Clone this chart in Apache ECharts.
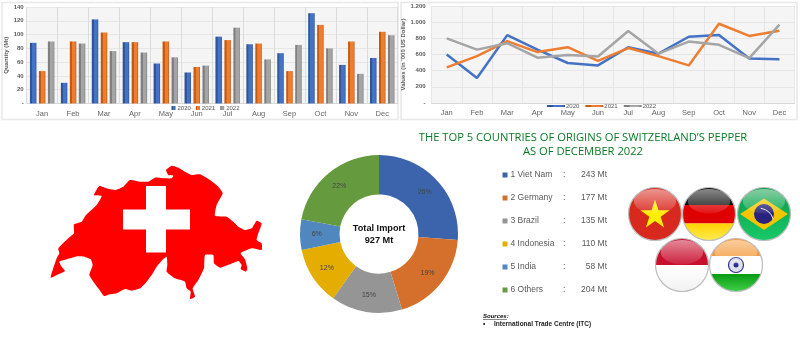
<!DOCTYPE html>
<html>
<head>
<meta charset="utf-8">
<title>Switzerland pepper imports</title>
<script src="https://cdn.jsdelivr.net/npm/echarts@6/dist/echarts.min.js"></script>
<style>
html, body { margin: 0; padding: 0; background: #fff; }
#main { width: 800px; height: 361px; }
</style>
</head>
<body>
<div id="main"></div>
<script>
// 月份
var months = ['Jan', 'Feb', 'Mar', 'Apr', 'May', 'Jun', 'Jul', 'Aug', 'Sep', 'Oct', 'Nov', 'Dec']
var years = ['2020', '2021', '2022']

// 数量 (Mt)
var qty2020 = [88, 30, 122, 89, 58, 45, 97, 86, 73, 131, 56, 66]
var qty2021 = [47, 90, 103, 89, 90, 53, 92, 87, 47, 114, 90, 104]
var qty2022 = [90, 87, 76, 74, 67, 55, 110, 64, 85, 80, 43, 99]

// 金额 ('000 US Dollar)
var val2020 = [600, 310, 840, 660, 495, 465, 690, 610, 820, 840, 550, 540]
var val2021 = [440, 580, 765, 630, 690, 520, 680, 580, 465, 980, 830, 895]
var val2022 = [800, 660, 740, 560, 595, 575, 890, 610, 760, 720, 555, 970]

// 来源国
var countries = ['1 Viet Nam', '2 Germany', '3 Brazil', '4 Indonesia', '5 India', '6 Others']
var imports = [243, 177, 135, 110, 58, 204]
var totalImport = 927

var yearColors = ['#2f5597', '#c55a11', '#7f7f7f']
var yearLights = ['#4472c4', '#ed7d31', '#a5a5a5']
var lineColors = ['#4472c4', '#ed7d31', '#a5a5a5']
var pieColors = ['#3b64ad', '#d4702c', '#959595', '#e5ad00', '#4f87be', '#659b3e']

// 瑞士地图轮廓
var mapOutline = [
    [152, 458], [175, 448], [195, 438], [185, 425], [178, 410], [200, 403], [232, 394], [255, 396], [272, 403],
    [278, 420], [268, 450], [280, 470], [295, 490], [312, 513], [330, 508], [350, 505], [375, 492], [395, 497],
    [420, 490], [440, 470], [455, 450], [470, 425], [490, 402], [500, 395], [502, 420], [500, 440], [525, 460],
    [555, 470], [560, 490], [572, 500], [570, 522], [585, 515], [578, 490], [595, 465], [612, 430], [615, 390],
    [640, 390], [642, 415], [660, 428], [690, 418], [715, 408], [725, 420], [722, 432], [738, 440], [742, 430],
    [735, 403], [722, 385], [755, 370], [785, 375], [785, 355], [770, 345], [775, 325], [785, 295], [770, 287],
    [755, 310], [735, 315], [715, 305], [700, 290], [680, 275], [645, 272], [650, 240], [668, 205], [655, 185],
    [630, 165], [600, 148], [575, 150], [555, 140], [535, 128], [515, 122], [498, 135], [505, 150], [520, 152],
    [515, 160], [490, 160], [465, 158], [445, 170], [420, 170], [390, 165], [370, 185], [345, 195], [320, 190],
    [298, 183], [282, 210], [305, 213], [290, 240], [258, 270], [245, 290], [222, 298], [222, 325], [205, 340],
    [175, 370], [178, 385], [170, 400]
]

var fontName = '"Liberation Sans", Arial, sans-serif'
var myChart = echarts.init(document.getElementById('main'))

function barFill(i) {
    return new echarts.graphic.LinearGradient(0, 0, 1, 0, [
        { offset: 0, color: yearColors[i] },
        { offset: 0.3, color: yearColors[i] },
        { offset: 0.35, color: yearLights[i] },
        { offset: 0.8, color: yearLights[i] },
        { offset: 1, color: yearColors[i] }
    ])
}

function initBarSeries(list) {
    return list.map(function (data, i) {
        return {
            type: 'bar',
            name: years[i],
            xAxisIndex: 0,
            yAxisIndex: 0,
            barWidth: 6.5,
            barGap: '38%',
            itemStyle: { color: barFill(i) },
            data: data
        }
    })
}

function initLineSeries(list) {
    return list.map(function (data, i) {
        return {
            type: 'line',
            name: years[i],
            xAxisIndex: 1,
            yAxisIndex: 1,
            symbol: 'none',
            lineStyle: { color: lineColors[i], width: 2.5 },
            itemStyle: { color: lineColors[i] },
            data: data
        }
    })
}

// 圆内水平条带
function bandPoints(cx, cy, r, y1, y2) {
    var pts = []
    var n = 24
    for (var i = 0; i <= n; i++) {
        var y = y1 + (y2 - y1) * i / n
        pts.push([cx + Math.sqrt(Math.max(r * r - y * y, 0)), cy + y])
    }
    for (var j = n; j >= 0; j--) {
        var yy = y1 + (y2 - y1) * j / n
        pts.push([cx - Math.sqrt(Math.max(r * r - yy * yy, 0)), cy + yy])
    }
    return pts
}

function band(cx, cy, r, y1, y2, fill) {
    return { type: 'polygon', shape: { points: bandPoints(cx, cy, r, y1, y2) }, style: { fill: fill } }
}

function vGrad(c1, c2) {
    return new echarts.graphic.LinearGradient(0, 0, 0, 1, [
        { offset: 0, color: c1 },
        { offset: 1, color: c2 }
    ])
}

// 高光和边框
function gloss(cx, cy, r) {
    return [
        {
            type: 'ellipse',
            shape: { cx: cx, cy: cy - r * 0.48, rx: r * 0.8, ry: r * 0.46 },
            style: { fill: vGrad('rgba(255,255,255,0.5)', 'rgba(255,255,255,0.08)') }
        },
        {
            type: 'circle',
            shape: { cx: cx, cy: cy, r: r },
            style: { fill: 'none', stroke: '#bdbdbd', lineWidth: 1.2 }
        }
    ]
}

function starPoints(cx, cy, R) {
    var pts = []
    for (var i = 0; i < 10; i++) {
        var rad = i % 2 === 0 ? R : R * 0.38
        var a = -Math.PI / 2 + i * Math.PI / 5
        pts.push([cx + rad * Math.cos(a), cy + rad * Math.sin(a)])
    }
    return pts
}

function buildFlags() {
    var r = 26.5
    var out = []
    // Viet Nam
    out.push({ type: 'circle', shape: { cx: 655, cy: 214, r: r }, style: { fill: '#d8291f' } })
    out.push({ type: 'polygon', shape: { points: starPoints(655, 215, 15.5) }, style: { fill: '#ffee00' } })
    out = out.concat(gloss(655, 214, r))
    // Germany
    out.push(band(709, 214, r, -r, -9, '#111'))
    out.push(band(709, 214, r, -9, 9.5, '#df0000'))
    out.push(band(709, 214, r, 9.5, r, vGrad('#ffd400', '#ffea50')))
    out = out.concat(gloss(709, 214, r))
    // Brazil
    out.push({ type: 'circle', shape: { cx: 764, cy: 214, r: r }, style: { fill: vGrad('#0a9a45', '#19c96a') } })
    out.push({ type: 'polygon', shape: { points: [[764, 198.5], [788, 214], [764, 230], [740, 214]] }, style: { fill: '#f2c500' } })
    out.push({ type: 'circle', shape: { cx: 764, cy: 214, r: 10 }, style: { fill: '#28237c' } })
    out.push({ type: 'arc', shape: { cx: 758, cy: 224, r: 16, startAngle: -1.4, endAngle: -0.3 }, style: { stroke: '#e8e8e8', lineWidth: 1, fill: 'none' } })
    out = out.concat(gloss(764, 214, r))
    // Indonesia
    out.push(band(682, 265, r, -r, 0, '#c8102e'))
    out.push(band(682, 265, r, 0, r, vGrad('#ffffff', '#f2f2f2')))
    out = out.concat(gloss(682, 265, r))
    // India
    out.push(band(736, 265, r, -r, -9, '#f59a3c'))
    out.push(band(736, 265, r, -9, 9, '#ffffff'))
    out.push(band(736, 265, r, 9, r, vGrad('#0a9a12', '#3fd04a')))
    out.push({ type: 'circle', shape: { cx: 736, cy: 265, r: 7.5 }, style: { fill: '#dfe0ee', stroke: '#27308a', lineWidth: 1.2 } })
    out.push({ type: 'circle', shape: { cx: 736, cy: 265, r: 2.5 }, style: { fill: '#27308a' } })
    out = out.concat(gloss(736, 265, r))
    return out
}

function buildGraphics() {
    var pts = mapOutline.map(function (p) { return [p[0] / 3, 125 + p[1] / 3] })
    var list = [
        { type: 'rect', shape: { x: 2, y: 2.5, width: 396, height: 117 }, style: { fill: 'none', stroke: '#e8e8e8', lineWidth: 1.5 } },
        { type: 'rect', shape: { x: 401, y: 2.5, width: 396, height: 117 }, style: { fill: 'none', stroke: '#e8e8e8', lineWidth: 1.5 } },
        { type: 'polygon', shape: { points: pts, smooth: 0.15 }, style: { fill: '#ff0000' } },
        { type: 'rect', shape: { x: 146, y: 186, width: 20, height: 66.5 }, style: { fill: '#fff' } },
        { type: 'rect', shape: { x: 123, y: 209.5, width: 67, height: 20 }, style: { fill: '#fff' } },
        {
            type: 'text', x: 379, y: 234,
            style: {
                text: 'Total Import\n' + totalImport + ' Mt', fill: '#111', font: 'bold 9.2px ' + fontName,
                textAlign: 'center', textVerticalAlign: 'middle', lineHeight: 12
            }
        },
        { type: 'text', x: 483, y: 313, style: { text: 'Sources:', fill: '#111', font: 'italic bold 6px ' + fontName } },
        { type: 'line', shape: { x1: 483, y1: 319.5, x2: 507, y2: 319.5 }, style: { stroke: '#111', lineWidth: 0.5 } },
        { type: 'text', x: 483, y: 321, style: { text: '•', fill: '#111', font: 'bold 6.5px ' + fontName } },
        { type: 'text', x: 494, y: 321, style: { text: 'International Trade Centre (ITC)', fill: '#222', font: 'bold 6.5px ' + fontName } }
    ]
    return list.concat(buildFlags())
}

function getData() {
    var axisText = { color: '#666', fontSize: 7.5, fontFamily: fontName }
    var yText = { color: '#595959', fontSize: 6, fontWeight: 'bold', fontFamily: fontName }
    var grid2 = { show: true, lineStyle: { color: '#e6e6e6', width: 1 } }
    return {
        animation: false,
        backgroundColor: '#fff',
        textStyle: { fontFamily: fontName },
        title: {
            text: "THE TOP 5 COUNTRIES OF ORIGINS OF SWITZERLAND’S PEPPER\nAS OF DECEMBER 2022",
            left: 583,
            top: 130.5,
            textAlign: 'center',
            padding: 0,
            textStyle: { color: '#0b7a25', fontSize: 11.2, fontWeight: 'normal', lineHeight: 14, fontFamily: '"Open Sans", sans-serif' }
        },
        grid: [
            { left: 26.7, top: 7, width: 371, height: 96.5, show: true, backgroundColor: '#f5f5f5', borderWidth: 0 },
            { left: 431.6, top: 6, width: 363, height: 97, show: true, backgroundColor: '#f5f5f5', borderWidth: 0 }
        ],
        legend: [
            {
                left: 171.5, top: 105, data: years, itemWidth: 4, itemHeight: 4, itemGap: 5, padding: 0, icon: 'rect',
                selectedMode: false, textStyle: { fontSize: 6, color: '#555', padding: [0, 0, 0, -3] }
            },
            {
                left: 547, top: 103, data: years, itemWidth: 18, itemHeight: 2, itemGap: 6, padding: 0, icon: 'rect',
                selectedMode: false, textStyle: { fontSize: 6, color: '#555', padding: [0, 0, 0, -4] }
            },
            {
                orient: 'vertical', left: 502.5, top: 170, data: countries, itemWidth: 5, itemHeight: 5, itemGap: 13, padding: 0,
                icon: 'rect', selectedMode: false,
                formatter: function (name) {
                    return '{a|' + name + '}{b|:}{c|' + imports[countries.indexOf(name)] + ' Mt}'
                },
                textStyle: {
                    lineHeight: 10,
                    padding: [0, 0, 0, -2],
                    rich: {
                        a: { width: 52.5, fontSize: 8.5, color: '#595959', lineHeight: 10 },
                        b: { width: 18, fontSize: 8.5, color: '#595959', lineHeight: 10 },
                        c: { width: 26, align: 'right', fontSize: 8.5, color: '#595959', lineHeight: 10 }
                    }
                }
            }
        ],
        xAxis: [
            {
                type: 'category', gridIndex: 0, data: months,
                axisTick: { show: false },
                axisLine: { lineStyle: { color: '#d9d9d9' } },
                axisLabel: Object.assign({ margin: 6, interval: 0 }, axisText),
                splitLine: { show: true, lineStyle: { color: '#dcdcdc', width: 1 } }
            },
            {
                type: 'category', gridIndex: 1, data: months,
                axisTick: { show: false },
                axisLine: { lineStyle: { color: '#d9d9d9' } },
                axisLabel: Object.assign({ margin: 6, interval: 0 }, axisText),
                splitLine: { show: true, lineStyle: { color: '#e6e6e6', width: 1 } }
            }
        ],
        yAxis: [
            {
                type: 'value', gridIndex: 0, min: 0, max: 140, interval: 20,
                name: 'Quantity (Mt)', nameLocation: 'middle', nameGap: 16, nameTextStyle: yText,
                axisLine: { show: false }, axisTick: { show: false },
                axisLabel: Object.assign({ margin: 3, formatter: function (v) { return v === 0 ? '-' : v } }, yText),
                splitLine: grid2
            },
            {
                type: 'value', gridIndex: 1, min: 0, max: 1200, interval: 200,
                name: "Values (in '000 US Dollar)", nameLocation: 'middle', nameGap: 23, nameTextStyle: yText,
                axisLine: { show: false }, axisTick: { show: false },
                axisLabel: Object.assign({
                    margin: 6,
                    formatter: function (v) { return v === 0 ? '-' : String(v).replace(/(\d)(\d{3})$/, '$1.$2') }
                }, yText),
                splitLine: grid2
            }
        ],
        series: initBarSeries([qty2020, qty2021, qty2022])
            .concat(initLineSeries([val2020, val2021, val2022]))
            .concat([{
                type: 'pie',
                center: [379, 234],
                radius: [39.5, 79],
                startAngle: 90,
                clockwise: true,
                silent: true,
                label: {
                    position: 'inside',
                    color: '#444',
                    fontSize: 7,
                    formatter: function (p) { return p.percent.toFixed(0) + '%' }
                },
                labelLine: { show: false },
                data: countries.map(function (name, i) {
                    return { name: name, value: imports[i], itemStyle: { color: pieColors[i] } }
                })
            }]),
        graphic: { elements: buildGraphics() }
    }
}

myChart.setOption(getData())
</script>
</body>
</html>
